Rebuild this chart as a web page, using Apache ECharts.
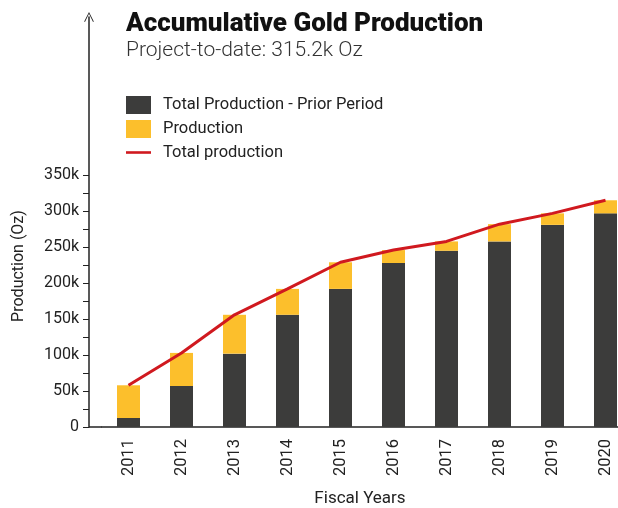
<!DOCTYPE html>
<html>
<head>
<meta charset="utf-8">
<script src="https://cdn.jsdelivr.net/npm/echarts@6/dist/echarts.min.js"></script>
<style>
  html, body { margin: 0; padding: 0; background: #fff; }
  #chart { width: 618px; height: 508px; }
</style>
</head>
<body>
<div id="chart"></div>
<script>
// fiscal years and values (k Oz)
const years = ["2011", "2012", "2013", "2014", "2015", "2016", "2017", "2018", "2019", "2020"];
const priorPeriod = [12.5, 57, 102, 156, 192, 228, 245, 258, 281, 297];
const production = [45.5, 46, 54, 36, 37, 18, 13, 24, 16, 18.2];
const totalProduction = [58, 103, 156, 192, 229, 246, 258, 282, 297, 315.2];
const yTickLabels = [0, 50, 100, 150, 200, 250, 300, 350];
const yTicks = [0, 25, 50, 75, 100, 125, 150, 175, 200, 225, 250, 275, 300, 325, 350];

const font = "Roboto";
const gridLeft = 102;
const yOffset = 13;
const chart = echarts.init(document.getElementById("chart"));

const toOz = arr => arr.map(v => v * 1000);

const option = {
  animation: false,
  title: {
    text: "Accumulative Gold Production",
    subtext: "Project-to-date: 315.2k Oz",
    left: 121,
    top: 6,
    itemGap: 3,
    textStyle: { fontFamily: font, fontSize: 26, fontWeight: 900, color: "#111" },
    subtextStyle: { fontFamily: font, fontSize: 21, fontWeight: 300, color: "#333" }
  },
  legend: {
    orient: "vertical",
    left: 126,
    top: 96,
    padding: 0,
    itemWidth: 25,
    itemHeight: 18,
    itemGap: 6,
    textStyle: { fontFamily: font, fontSize: 16.5, color: "#222", padding: [0, 0, 0, 7] },
    data: [
      { name: "Total Production - Prior Period", icon: "rect" },
      { name: "Production", icon: "rect" },
      { name: "Total production", icon: "path://M0,0 L25,0 L25,2.6 L0,2.6 Z" }
    ]
  },
  grid: { left: gridLeft, width: 530, top: 17, bottom: 81, outerBoundsMode: "none" },
  xAxis: {
    type: "category",
    data: years,
    name: "Fiscal Years",
    nameLocation: "middle",
    nameGap: 63,
    nameTextStyle: { fontFamily: font, fontSize: 17, color: "#222", padding: [0, 14, 0, 0] },
    axisTick: { show: false },
    axisLine: { lineStyle: { color: "#222", width: 1.5 } },
    axisLabel: {
      rotate: 90,
      margin: 12,
      fontFamily: font,
      fontSize: 16.5,
      color: "#222"
    }
  },
  yAxis: {
    type: "value",
    min: 0,
    max: 570000,
    offset: yOffset,
    name: "Production (Oz)",
    nameLocation: "middle",
    nameGap: 62,
    nameTextStyle: { fontFamily: font, fontSize: 16, color: "#222", padding: [0, 88, 0, 0] },
    splitLine: { show: false },
    axisLine: {
      show: true,
      lineStyle: { color: "#222", width: 1.5 },
      symbol: ["none", "path://M0,10 L5,0 L10,10 L9.2,10.4 L5,1.8 L0.8,10.4 Z"],
      symbolSize: [17, 10]
    },
    axisTick: {
      show: true,
      customValues: toOz(yTicks),
      length: 6,
      lineStyle: { color: "#222" }
    },
    axisLabel: {
      customValues: toOz(yTickLabels),
      margin: 10,
      fontFamily: font,
      fontSize: 16,
      color: "#222",
      formatter: v => (v === 0 ? "0" : v / 1000 + "k")
    }
  },
  series: [
    {
      name: "Total Production - Prior Period",
      type: "bar",
      stack: "total",
      barWidth: 23,
      itemStyle: { color: "#3c3c3b" },
      data: toOz(priorPeriod)
    },
    {
      name: "Production",
      type: "bar",
      stack: "total",
      barWidth: 23,
      itemStyle: { color: "#fcbf2c" },
      data: toOz(production)
    },
    {
      name: "Total production",
      type: "line",
      symbol: "none",
      z: 5,
      lineStyle: { color: "#d0191f", width: 3 },
      itemStyle: { color: "#d0191f" },
      data: toOz(totalProduction)
    }
  ]
};

chart.setOption(option);

// the y axis sits left of the grid, so close the gap in the x axis line
const zeroY = chart.convertToPixel({ yAxisIndex: 0 }, 0);
chart.setOption({
  graphic: [{
    type: "line",
    shape: { x1: gridLeft - yOffset, y1: zeroY, x2: gridLeft, y2: zeroY },
    style: { stroke: "#222", lineWidth: 1.5 }
  }]
});
</script>
</body>
</html>
